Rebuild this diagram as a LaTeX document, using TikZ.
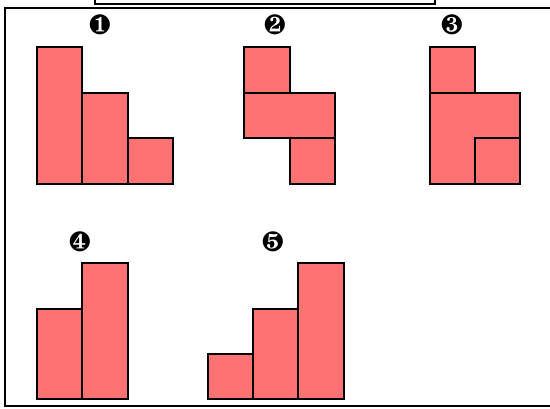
\documentclass[tikz,border=0pt]{standalone}
\usepackage{pifont}
\definecolor{blockred}{RGB}{255,114,114}
\tikzset{block/.style={draw=black,fill=blockred,line width=2pt,line join=miter},
num/.style={font=\fontsize{28}{28}\selectfont}}
\begin{document}
\begin{tikzpicture}[x=1pt,y=1pt]
\useasboundingbox (0,0) rectangle (550,408);
\draw [line width=2.5pt] (5,2) rectangle (560,400);
\draw [line width=2pt] (95,404) rectangle (435,420);

% first row
\node[num] (n1) at(100,383){\ding{182}};
\node[num] (n2) at(275,383){\ding{183}};
\node[num] (n3) at(452,383){\ding{184}};

\draw [block] (37,224) rectangle (82,361);
\draw [block] (82,224) rectangle (128,315);
\draw [block] (128,224) rectangle (173,270);

\draw [block] (244,315) rectangle (290,361);
\draw [block] (244,270) rectangle (335,315);
\draw [block] (290,224) rectangle (335,270);

\draw [block] (430,315) rectangle (475,361);
\draw [block] (430,224) -- (430,315) -- (520,315) -- (520,270) -- (475,270) -- (475,224) -- cycle;
\draw [block] (475,224) rectangle (520,270);

% second row
\node[num] (n4) at(80,166){\ding{185}};
\node[num] (n5) at(273,166){\ding{186}};

\draw [block] (37,9) rectangle (82,99);
\draw [block] (82,9) rectangle (128,145);

\draw [block] (208,9) rectangle (253,54);
\draw [block] (253,9) rectangle (298,99);
\draw [block] (298,9) rectangle (344,145);
\end{tikzpicture}
\end{document}
